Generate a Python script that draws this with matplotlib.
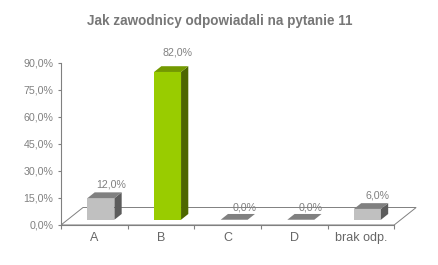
import matplotlib
matplotlib.use('Agg')
import matplotlib.pyplot as plt
from matplotlib.patches import Polygon
from matplotlib.ticker import FuncFormatter

categories = ['A', 'B', 'C', 'D', 'brak odp.']
values = [12.0, 82.0, 0.0, 0.0, 6.0]
y_ticks = [0, 15, 30, 45, 60, 75, 90]
title = 'Jak zawodnicy odpowiadali na pytanie 11'

front_colors = ['#c0c0c0', '#99cc00', '#c0c0c0', '#c0c0c0', '#c0c0c0']
top_colors = ['#808080', '#739900', '#808080', '#808080', '#808080']
side_colors = ['#5c5c5c', '#4d6600', '#5c5c5c', '#5c5c5c', '#5c5c5c']

GRAY = '#808080'
plt.rcParams['font.family'] = ['Liberation Sans', 'DejaVu Sans']


def pct(v, _=None):
    return f'{v:.1f}%'.replace('.', ',')


fig = plt.figure(figsize=(4.39, 2.65), dpi=100)
ax = fig.add_axes([0.139, 0.151, 0.815, 0.612])
ax.set_xlim(-0.5, 4.87)
ax.set_ylim(0, 90)

# pseudo-3d floor depth (data units) and bar placement within it
depth_x, depth_y = 0.33, 9.7
front, back = 0.3, 0.63
width = 0.405

n = len(categories)
ax.add_patch(Polygon([(-0.5, 0), (n - 0.5, 0), (n - 0.5 + depth_x, depth_y),
                      (-0.5 + depth_x, depth_y)], closed=True,
                     facecolor='white', edgecolor=GRAY, lw=0.7, zorder=1))

dx = (back - front) * depth_x
dy = (back - front) * depth_y
for i, v in enumerate(values):
    x0 = i - width / 2 + front * depth_x
    x1 = x0 + width
    y0 = front * depth_y
    y1 = y0 + v
    if v > 0:
        ax.add_patch(Polygon([(x0, y0), (x1, y0), (x1, y1), (x0, y1)],
                             facecolor=front_colors[i], lw=0, zorder=3))
        ax.add_patch(Polygon([(x1, y0), (x1 + dx, y0 + dy), (x1 + dx, y1 + dy), (x1, y1)],
                             facecolor=side_colors[i], lw=0, zorder=3))
    ax.add_patch(Polygon([(x0, y1), (x1, y1), (x1 + dx, y1 + dy), (x0 + dx, y1 + dy)],
                         facecolor=top_colors[i], lw=0, zorder=3))
    ax.annotate(pct(v), xy=((x0 + x1) / 2 + dx, y1 + dy),
                xytext=(2, 4.9 + 0.065 * v), textcoords='offset points',
                ha='center', va='center', fontsize=7.7, color=GRAY, zorder=4)

for side in ['top', 'right']:
    ax.spines[side].set_visible(False)
ax.spines['left'].set_color(GRAY)
ax.spines['bottom'].set_color(GRAY)
ax.spines['left'].set_linewidth(0.8)
ax.spines['bottom'].set_linewidth(0.8)
ax.spines['bottom'].set_bounds(-0.5, n - 0.5)
ax.spines['bottom'].set_zorder(2)

ax.set_yticks(y_ticks)
ax.yaxis.set_major_formatter(FuncFormatter(pct))
ax.tick_params(axis='y', colors=GRAY, labelcolor=GRAY, labelsize=7.7,
               length=2.5, width=0.8, pad=3)

ax.set_xticks(range(n))
ax.set_xticklabels(categories)
ax.set_xticks([i - 0.5 for i in range(n + 1)], minor=True)
ax.tick_params(axis='x', which='major', length=0, labelsize=9,
               labelcolor='#666666', pad=5)
ax.tick_params(axis='x', which='minor', length=3, width=0.8, color=GRAY)

fig.text(0.501, 0.921, title, ha='center', va='center', fontsize=9.75,
         fontweight='bold', color='#777777')

fig.savefig('out.png', dpi=100)
